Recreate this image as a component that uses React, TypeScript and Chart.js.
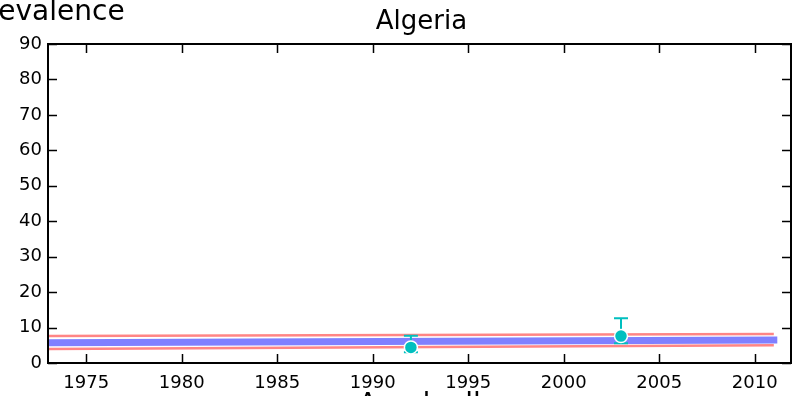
import { useEffect, useRef } from "react";
import { Chart, registerables } from "chart.js";

Chart.register(...registerables);

const lineYears = [1973, 2011];
const upperBound = [7.6, 8.2];
const lowerBound = [3.95, 5.0];
const centralEstimate = [5.7, 6.5];

const surveyYears = [1992, 2003];
const surveyValues = [4.4, 7.6];
const surveyLow = [3.0, 5.6];
const surveyHigh = [7.7, 12.6];

const xTicks = [1975, 1980, 1985, 1990, 1995, 2000, 2005, 2010];
const yTicks = [0, 10, 20, 30, 40, 50, 60, 70, 80, 90];

const titleText = "Algeria";
const yLabelText = "Prevalence";
const xLabelText = "Aged, all";

const FONT = "'DejaVu Sans', sans-serif";
const CYAN = "#00bfbf";

export default function App() {
  const ref = useRef<HTMLCanvasElement | null>(null);

  useEffect(() => {
    document.body.style.margin = "0";
    const canvas = ref.current;
    if (!canvas) return;

    const toPts = (ys: number[]) => lineYears.map((x, i) => ({ x, y: ys[i] }));

    const frame = {
      id: "frame",
      beforeDatasetDraw(chart: any, args: any) {
        if (args.index !== 3) return;
        const ctx = chart.ctx;
        const xs = chart.scales.x;
        const ys = chart.scales.y;
        ctx.save();
        ctx.strokeStyle = CYAN;
        ctx.lineWidth = 2;
        surveyYears.forEach((yr, i) => {
          const px = xs.getPixelForValue(yr);
          const lo = ys.getPixelForValue(surveyLow[i]);
          const hi = ys.getPixelForValue(surveyHigh[i]);
          ctx.beginPath();
          ctx.moveTo(px, lo);
          ctx.lineTo(px, hi);
          ctx.moveTo(px - 7, lo);
          ctx.lineTo(px + 7, lo);
          ctx.moveTo(px - 7, hi);
          ctx.lineTo(px + 7, hi);
          ctx.stroke();
        });
        ctx.restore();
      },
      afterDraw(chart: any) {
        const ctx = chart.ctx;
        const a = chart.chartArea;
        const xs = chart.scales.x;
        const ys = chart.scales.y;
        ctx.save();
        ctx.strokeStyle = "#000";
        ctx.lineWidth = 1.5;
        ctx.beginPath();
        xTicks.forEach((t) => {
          const px = Math.round(xs.getPixelForValue(t)) + 0.5;
          ctx.moveTo(px, a.bottom);
          ctx.lineTo(px, a.bottom - 9);
          ctx.moveTo(px, a.top);
          ctx.lineTo(px, a.top + 9);
        });
        yTicks.forEach((t) => {
          const py = Math.round(ys.getPixelForValue(t)) + 0.5;
          ctx.moveTo(a.left, py);
          ctx.lineTo(a.left + 9, py);
          ctx.moveTo(a.right, py);
          ctx.lineTo(a.right - 9, py);
        });
        ctx.stroke();
        ctx.lineWidth = 2;
        ctx.strokeRect(a.left, a.top, a.right - a.left, a.bottom - a.top);

        ctx.fillStyle = "#000";
        ctx.font = `18px ${FONT}`;
        ctx.textAlign = "center";
        ctx.textBaseline = "middle";
        xTicks.forEach((t) => {
          ctx.fillText(String(t), xs.getPixelForValue(t), a.bottom + 20);
        });
        ctx.textAlign = "right";
        yTicks.forEach((t) => {
          ctx.fillText(String(t), a.left - 6, ys.getPixelForValue(t));
        });

        ctx.font = `26px ${FONT}`;
        ctx.textAlign = "center";
        ctx.textBaseline = "alphabetic";
        ctx.fillText(titleText, (a.left + a.right) / 2 + 2, 29);

        ctx.font = `28px ${FONT}`;
        ctx.textAlign = "left";
        ctx.fillText(yLabelText, -29, 20);

        ctx.textAlign = "center";
        ctx.fillText(xLabelText, (a.left + a.right) / 2, 413);
        ctx.restore();
      },
    };

    const chart = new Chart(canvas, {
      type: "scatter",
      data: {
        datasets: [
          {
            data: toPts(upperBound),
            showLine: true,
            borderColor: "#ff8585",
            borderWidth: 2.5,
            pointRadius: 0,
            order: 3,
          },
          {
            data: toPts(lowerBound),
            showLine: true,
            borderColor: "#ff8585",
            borderWidth: 2.5,
            pointRadius: 0,
            order: 2,
          },
          {
            data: toPts(centralEstimate),
            showLine: true,
            borderColor: "#8080ff",
            borderWidth: 7,
            borderCapStyle: "square",
            pointRadius: 0,
            order: 1,
          },
          {
            data: surveyYears.map((x, i) => ({ x, y: surveyValues[i] })),
            showLine: false,
            pointRadius: 6.5,
            pointBackgroundColor: CYAN,
            pointBorderColor: "#ffffff",
            pointBorderWidth: 1.5,
            order: 0,
          },
        ],
      } as any,
      options: {
        animation: false,
        responsive: false,
        devicePixelRatio: 1,
        layout: {
          autoPadding: false,
          padding: { top: 44, right: 2, left: 48, bottom: 33 },
        },
        plugins: {
          legend: { display: false },
          tooltip: { enabled: false },
          title: { display: false },
        },
        scales: {
          x: {
            type: "linear",
            min: 1973,
            max: 2011.9,
            afterBuildTicks: (s: any) => {
              s.ticks = xTicks.map((v) => ({ value: v }));
            },
            grid: { display: false, drawTicks: false },
            border: { display: false },
            ticks: { display: false },
          },
          y: {
            type: "linear",
            min: 0,
            max: 90,
            afterBuildTicks: (s: any) => {
              s.ticks = yTicks.map((v) => ({ value: v }));
            },
            grid: { display: false, drawTicks: false },
            border: { display: false },
            ticks: { display: false },
          },
        },
      } as any,
      plugins: [frame],
    });

    return () => chart.destroy();
  }, []);

  return (
    <canvas
      ref={ref}
      width={793}
      height={396}
      style={{ display: "block", width: 793, height: 396 }}
    />
  );
}
